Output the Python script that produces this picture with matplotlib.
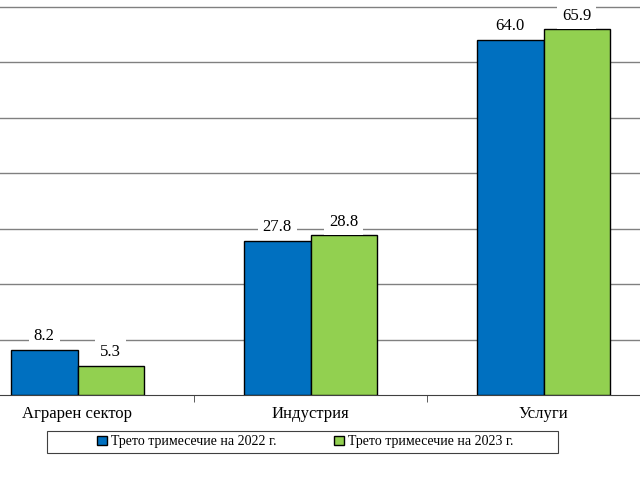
import numpy as np
import matplotlib.pyplot as plt
from matplotlib.patches import Rectangle
from matplotlib.ticker import FixedLocator

categories = ["Аграрен сектор", "Индустрия", "Услуги"]
series_names = ["Трето тримесечие на 2022 г.", "Трето тримесечие на 2023 г."]
values_2022 = [8.2, 27.8, 64.0]
values_2023 = [5.3, 28.8, 65.9]

plt.rcParams["font.family"] = ["Liberation Serif", "DejaVu Serif"]

fig = plt.figure(figsize=(6.4, 4.8), dpi=100)
# plot area runs past the picture edges, as in the cropped original
ax = fig.add_axes([-39 / 640, 85 / 480, 699 / 640, 395 / 480])

x = np.arange(len(categories))
w = 0.285
bars1 = ax.bar(x - w / 2, values_2022, w, color="#0070C0", edgecolor="black",
               linewidth=1.0, label=series_names[0], zorder=3)
bars2 = ax.bar(x + w / 2, values_2023, w, color="#92D050", edgecolor="black",
               linewidth=1.0, label=series_names[1], zorder=3)

for bars in (bars1, bars2):
    for b in bars:
        ax.annotate(f"{b.get_height():.1f}", (b.get_x() + b.get_width() / 2, b.get_height()),
                    xytext=(0, 4), textcoords="offset points", ha="center", va="bottom",
                    fontsize=12, zorder=4,
                    bbox=dict(facecolor="white", edgecolor="none", pad=3.5))

ax.set_xlim(-0.5, 2.5)
ax.set_ylim(0, 71.2)
ax.set_yticks(np.arange(10, 71, 10))
ax.yaxis.grid(True, color="#808080", linewidth=1.0, zorder=0)
ax.tick_params(axis="y", length=0, labelleft=False)

ax.set_xticks(x)
ax.set_xticklabels(categories, fontsize=12)
ax.xaxis.set_minor_locator(FixedLocator([0.5, 1.5]))
ax.tick_params(axis="x", which="major", length=0, pad=8)
ax.tick_params(axis="x", which="minor", length=5, color="#404040")

for s in ("top", "left", "right"):
    ax.spines[s].set_visible(False)
ax.spines["bottom"].set_color("#404040")

# legend frame is wider than its contents in the original
fig.patches.append(Rectangle((47 / 640, 27 / 480), 511 / 640, 22 / 480,
                             transform=fig.transFigure, facecolor="white",
                             edgecolor="#404040", linewidth=0.8, zorder=0))
fig.legend(loc="center", bbox_to_anchor=(0.477, 0.0792), ncol=2, fontsize=10,
           frameon=False, handlelength=0.7, handleheight=0.7,
           handletextpad=0.3, columnspacing=4.1)

fig.savefig("out.png", dpi=100)
